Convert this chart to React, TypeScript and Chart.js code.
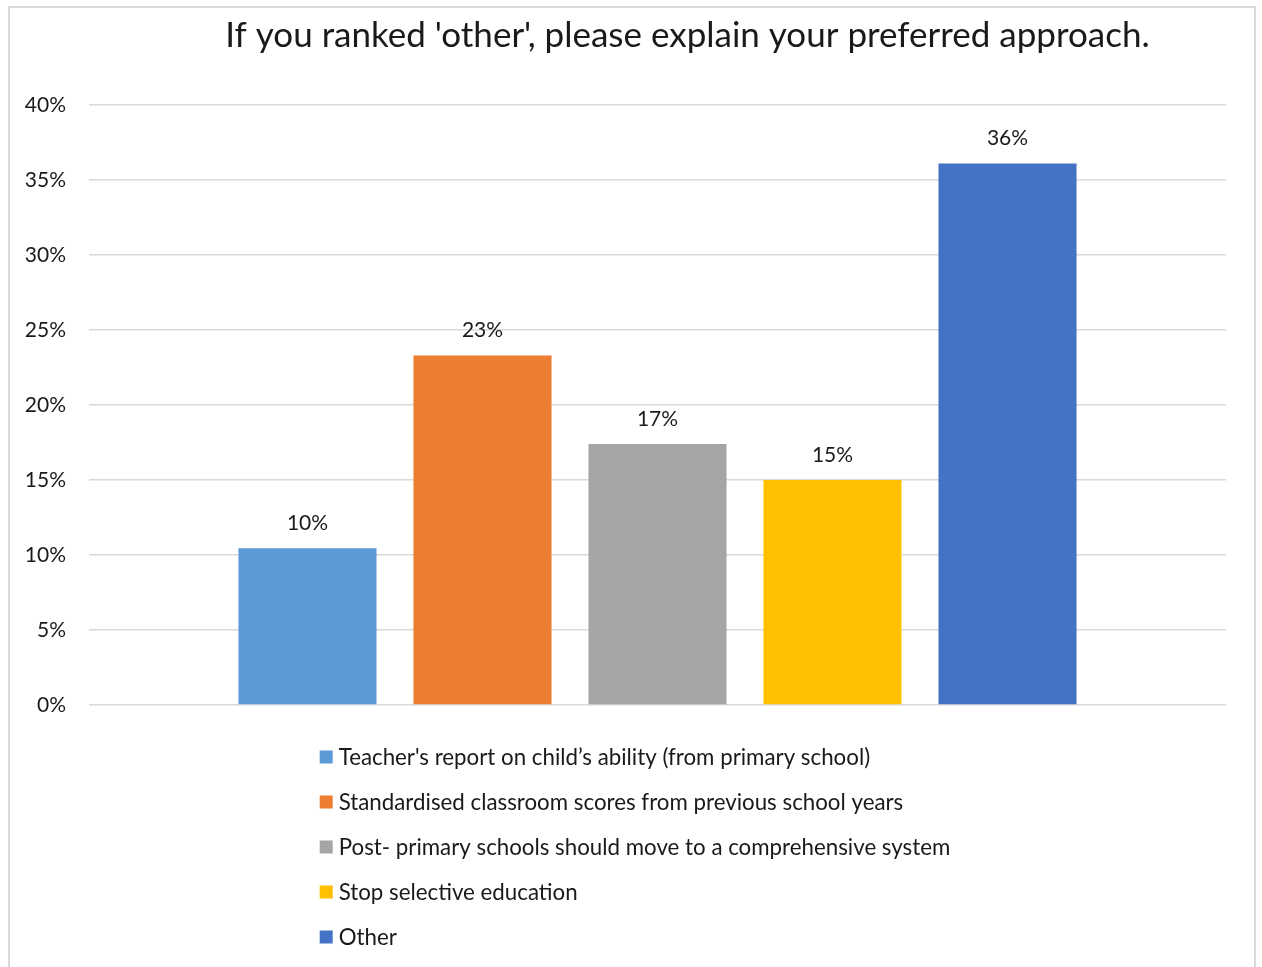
import React, { useEffect, useRef } from "react";
import { Chart, registerables } from "chart.js";

Chart.register(...registerables);

const chartTitle = "If you ranked 'other', please explain your preferred approach.";
const categories = [""];
const seriesNames = [
  "Teacher's report on child\u2019s ability (from primary school)",
  "Standardised classroom scores from previous school years",
  "Post- primary schools should move to a comprehensive system",
  "Stop selective education",
  "Other",
];
const seriesValues = [10.45, 23.3, 17.4, 15.0, 36.1];
const seriesColors = ["#5B9BD5", "#ED7D31", "#A5A5A5", "#FFC000", "#4472C4"];
const yMin = 0;
const yMax = 40;
const yStep = 5;

const FONT = "Lato, 'Open Sans', sans-serif";
const TEXT = "#1a1a1a";

const titlePlugin = {
  id: "customTitle",
  afterDraw(chart: any) {
    const { ctx, chartArea } = chart;
    ctx.save();
    ctx.font = `35px ${FONT}`;
    ctx.fillStyle = TEXT;
    ctx.textAlign = "center";
    ctx.textBaseline = "middle";
    const cx = (chartArea.left + chartArea.right) / 2 + 30;
    ctx.fillText(chartTitle, cx, 28);
    ctx.restore();
  },
};

const dataLabelPlugin = {
  id: "dataLabels",
  afterDatasetsDraw(chart: any) {
    const { ctx } = chart;
    ctx.save();
    ctx.font = `21px ${FONT}`;
    ctx.fillStyle = TEXT;
    ctx.textAlign = "center";
    ctx.textBaseline = "middle";
    chart.data.datasets.forEach((ds: any, i: number) => {
      const meta = chart.getDatasetMeta(i);
      meta.data.forEach((bar: any, j: number) => {
        const v = ds.data[j];
        ctx.fillText(Math.round(v) + "%", bar.x, bar.y - 25);
      });
    });
    ctx.restore();
  },
};

const legendPlugin = {
  id: "customLegend",
  afterDraw(chart: any) {
    const { ctx, chartArea } = chart;
    ctx.save();
    ctx.font = `22.3px ${FONT}`;
    ctx.textBaseline = "middle";
    ctx.textAlign = "left";
    const box = 13;
    const gap = 6;
    let maxW = 0;
    chart.data.datasets.forEach((ds: any) => {
      maxW = Math.max(maxW, ctx.measureText(ds.label).width);
    });
    const blockW = box + gap + maxW;
    const left = (chart.width - blockW) / 2 + 3;
    chart.data.datasets.forEach((ds: any, i: number) => {
      const cy = chartArea.bottom + 52 + i * 45;
      ctx.fillStyle = ds.backgroundColor;
      ctx.fillRect(left, cy - box / 2, box, box);
      ctx.fillStyle = TEXT;
      ctx.fillText(ds.label, left + box + gap, cy + 1);
    });
    ctx.restore();
  },
};

export default function App() {
  const canvasRef = useRef<HTMLCanvasElement | null>(null);

  useEffect(() => {
    if (!canvasRef.current) return;
    const chart = new Chart(canvasRef.current, {
      type: "bar",
      data: {
        labels: categories,
        datasets: seriesNames.map((name, i) => ({
          label: name,
          data: [seriesValues[i]],
          backgroundColor: seriesColors[i],
          borderWidth: 0,
          barPercentage: 0.789,
          categoryPercentage: 0.7696,
        })),
      },
      options: {
        responsive: false,
        animation: false,
        layout: { padding: { left: 0, right: 28, top: 97, bottom: 262 } },
        plugins: {
          legend: { display: false },
          title: { display: false },
          tooltip: { enabled: false },
        },
        scales: {
          x: { display: false },
          y: {
            min: yMin,
            max: yMax,
            border: { display: false },
            grid: { color: "#d9d9d9", lineWidth: 1.5, drawTicks: false },
            ticks: {
              stepSize: yStep,
              padding: 23,
              color: TEXT,
              font: { family: FONT, size: 21 },
              callback: (v: any) => v + "%",
            },
            afterFit: (scale: any) => {
              scale.width = 79;
            },
          },
        },
      },
      plugins: [titlePlugin, dataLabelPlugin, legendPlugin],
    });
    return () => chart.destroy();
  }, []);

  return (
    <div
      style={{
        position: "absolute",
        left: 8,
        top: 6,
        width: 1248,
        height: 961,
        border: "2px solid #d9d9d9",
        borderBottom: "none",
        boxSizing: "border-box",
        background: "#fff",
        overflow: "hidden",
      }}
    >
      <canvas ref={canvasRef} width={1244} height={959} style={{ display: "block" }} />
    </div>
  );
}
